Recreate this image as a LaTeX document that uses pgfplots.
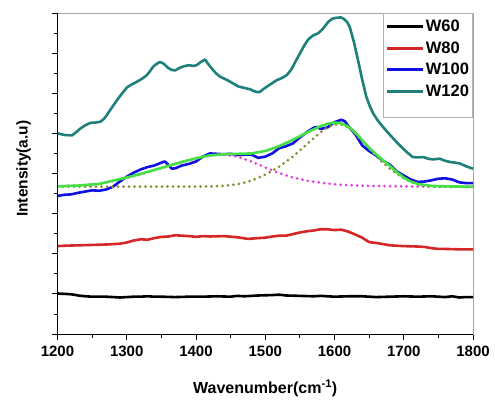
\documentclass[border=0pt]{standalone}
\usepackage{pgfplots}
\pgfplotsset{compat=1.18}
\usepackage{fontspec}
\setmainfont{Liberation Sans}
\definecolor{cW80}{HTML}{D62728}
\definecolor{cW100}{HTML}{1010E0}
\definecolor{cW120}{HTML}{1F7F7A}
\definecolor{cFit}{HTML}{44E044}
\definecolor{cD}{HTML}{E040E0}
\definecolor{cG}{HTML}{8A8A30}
\begin{document}
\begin{tikzpicture}
\begin{axis}[name=ax,
  scale only axis, width=415.5pt, height=321pt,
  xmin=1200, xmax=1800, ymin=0, ymax=8,
  xtick={1200,1300,...,1800}, minor xtick={1250,1350,...,1750},
  ytick={0,1,...,8}, minor ytick={0.5,1.5,...,7.5}, yticklabels={},
  xtick pos=bottom, ytick pos=left, tick align=outside,
  major tick length=6pt, minor tick length=3.5pt,
  tick style={black, line width=0.8pt},
  axis line style={draw=gray!70, line width=0.8pt},
  /pgf/number format/assume math mode=true,
  /pgf/number format/1000 sep={},
  xticklabel style={font=\bfseries\fontsize{15}{15}\selectfont, yshift=-2pt},
  xlabel={Wavenumber(cm\textsuperscript{-1})},
  ylabel={Intensity(a.u)},
  xlabel style={font=\bfseries\fontsize{16}{16}\selectfont, at={(axis description cs:0.5,0)}, anchor=center, yshift=-54pt},
  ylabel style={font=\bfseries\fontsize{15.5}{15.5}\selectfont, at={(axis description cs:0,0.515)}, anchor=center, yshift=34pt},
  legend style={at={(1,1)}, anchor=north east, draw=gray!60, line width=1pt, fill=white,
    font=\bfseries\fontsize{16.5}{16.5}\selectfont, legend cell align=left,
    inner xsep=2pt, inner ysep=5pt, row sep=5.5pt,
    nodes={inner sep=1.5pt}},
  legend image code/.code={\draw[#1, line width=3pt] (0pt,0pt) -- (36pt,0pt);},
  every axis plot/.append style={line width=2.6pt, line join=round},
]
% W60
\addplot[black] coordinates {
(1200,1.01)(1210,1.00)(1220,0.99)(1230,0.96)(1240,0.94)(1250,0.93)(1260,0.93)(1270,0.93)(1280,0.92)(1290,0.91)(1300,0.92)(1310,0.93)(1320,0.93)(1330,0.94)(1340,0.93)(1350,0.93)(1370,0.92)(1390,0.93)(1410,0.93)(1430,0.94)(1450,0.93)(1460,0.95)(1470,0.94)(1490,0.96)(1510,0.97)(1520,0.98)(1530,0.96)(1550,0.95)(1570,0.94)(1580,0.95)(1600,0.93)(1620,0.94)(1640,0.94)(1660,0.92)(1680,0.93)(1700,0.94)(1720,0.93)(1740,0.94)(1760,0.92)(1770,0.94)(1780,0.91)(1790,0.92)(1800,0.92)};
\addlegendentry{W60}
% W80
\addplot[cW80] coordinates {
(1200,2.19)(1210,2.20)(1230,2.21)(1250,2.22)(1270,2.23)(1290,2.25)(1300,2.28)(1310,2.33)(1320,2.36)(1330,2.35)(1340,2.39)(1350,2.42)(1360,2.43)(1370,2.46)(1380,2.45)(1390,2.44)(1400,2.42)(1410,2.44)(1420,2.43)(1440,2.44)(1460,2.41)(1475,2.37)(1490,2.39)(1500,2.40)(1510,2.43)(1520,2.45)(1530,2.45)(1540,2.49)(1550,2.53)(1560,2.56)(1570,2.58)(1580,2.61)(1590,2.61)(1600,2.59)(1610,2.60)(1620,2.55)(1630,2.48)(1640,2.40)(1650,2.29)(1660,2.27)(1670,2.24)(1680,2.21)(1690,2.20)(1700,2.19)(1720,2.18)(1730,2.17)(1740,2.14)(1750,2.12)(1760,2.12)(1780,2.11)(1800,2.11)};
\addlegendentry{W80}
% W100
\addplot[cW100] coordinates {
(1200,3.44)(1210,3.47)(1220,3.48)(1230,3.52)(1240,3.55)(1250,3.58)(1260,3.57)(1270,3.60)(1280,3.67)(1290,3.80)(1300,3.92)(1310,4.02)(1320,4.10)(1330,4.16)(1340,4.20)(1350,4.27)(1355,4.30)(1360,4.22)(1365,4.12)(1370,4.13)(1380,4.20)(1390,4.24)(1400,4.30)(1410,4.42)(1420,4.50)(1430,4.49)(1440,4.48)(1450,4.49)(1460,4.46)(1470,4.47)(1480,4.47)(1490,4.39)(1500,4.42)(1510,4.50)(1520,4.63)(1530,4.68)(1540,4.75)(1550,4.90)(1560,5.03)(1570,5.14)(1575,5.16)(1580,5.11)(1590,5.15)(1600,5.28)(1610,5.34)(1615,5.30)(1620,5.18)(1630,4.98)(1640,4.70)(1650,4.56)(1660,4.45)(1670,4.32)(1680,4.22)(1690,4.05)(1700,3.95)(1710,3.85)(1720,3.79)(1730,3.80)(1740,3.83)(1750,3.87)(1760,3.88)(1770,3.85)(1780,3.78)(1790,3.76)(1800,3.76)};
\addlegendentry{W100}
% W120
\addplot[cW120] coordinates {
(1200,5.00)(1210,4.96)(1221,4.95)(1227,5.03)(1233,5.12)(1240,5.20)(1247,5.26)(1255,5.27)(1262,5.29)(1267,5.36)(1271,5.45)(1278,5.63)(1286,5.83)(1293,5.99)(1300,6.14)(1307,6.22)(1314,6.28)(1322,6.36)(1329,6.45)(1334,6.56)(1338,6.66)(1343,6.73)(1348,6.78)(1353,6.74)(1360,6.63)(1365,6.58)(1370,6.57)(1376,6.63)(1382,6.67)(1390,6.70)(1396,6.68)(1401,6.70)(1407,6.78)(1413,6.84)(1418,6.72)(1425,6.57)(1430,6.48)(1435,6.41)(1445,6.33)(1454,6.24)(1461,6.17)(1468,6.14)(1478,6.10)(1484,6.05)(1488,6.03)(1492,6.03)(1497,6.10)(1502,6.16)(1509,6.24)(1516,6.32)(1524,6.38)(1531,6.45)(1538,6.60)(1544,6.80)(1550,6.99)(1556,7.18)(1562,7.34)(1569,7.44)(1576,7.49)(1583,7.60)(1591,7.78)(1597,7.86)(1603,7.88)(1609,7.89)(1613,7.86)(1618,7.78)(1622,7.65)(1628,7.28)(1634,6.82)(1640,6.34)(1646,5.91)(1651,5.68)(1656,5.49)(1663,5.31)(1670,5.16)(1677,5.02)(1685,4.87)(1692,4.74)(1699,4.62)(1706,4.51)(1713,4.41)(1720,4.40)(1728,4.41)(1735,4.37)(1742,4.35)(1747,4.36)(1752,4.37)(1759,4.32)(1766,4.29)(1774,4.27)(1781,4.25)(1790,4.18)(1800,4.12)};
\addlegendentry{W120}
\addlegendimage{empty legend}\addlegendentry{\rule[-9pt]{0pt}{12pt}}
% D band fit
\addplot[cD, line width=3pt, line cap=round, dash pattern=on 0pt off 5.5pt, forget plot] coordinates {
(1200,3.68)(1230,3.70)(1260,3.74)(1280,3.81)(1300,3.89)(1320,3.98)(1340,4.08)(1360,4.18)(1380,4.28)(1400,4.38)(1420,4.45)(1430,4.47)(1440,4.47)(1460,4.42)(1480,4.30)(1500,4.15)(1520,4.01)(1540,3.90)(1560,3.82)(1580,3.77)(1600,3.73)(1620,3.71)(1650,3.69)(1700,3.68)(1750,3.67)(1800,3.67)};
% G band fit
\addplot[cG, line width=3pt, line cap=round, dash pattern=on 0pt off 5.5pt, forget plot] coordinates {
(1200,3.67)(1300,3.67)(1400,3.67)(1440,3.69)(1460,3.73)(1480,3.82)(1500,3.97)(1520,4.17)(1540,4.42)(1560,4.73)(1580,5.03)(1590,5.15)(1600,5.22)(1610,5.22)(1620,5.15)(1630,5.00)(1640,4.82)(1650,4.62)(1660,4.43)(1670,4.27)(1680,4.12)(1690,3.99)(1700,3.88)(1710,3.79)(1720,3.73)(1740,3.68)(1760,3.67)(1800,3.67)};
% cumulative fit
\addplot[cFit, forget plot] coordinates {
(1200,3.68)(1230,3.70)(1260,3.74)(1280,3.82)(1300,3.90)(1320,3.99)(1340,4.09)(1360,4.19)(1380,4.29)(1400,4.38)(1420,4.45)(1440,4.48)(1460,4.49)(1480,4.50)(1500,4.56)(1520,4.68)(1540,4.84)(1560,5.02)(1580,5.18)(1590,5.24)(1600,5.27)(1610,5.25)(1620,5.17)(1630,5.02)(1640,4.83)(1650,4.64)(1660,4.48)(1670,4.33)(1680,4.19)(1690,4.03)(1700,3.90)(1710,3.80)(1720,3.74)(1740,3.69)(1760,3.68)(1800,3.67)};
\end{axis}
\draw[black, line width=1pt] (ax.north west) -- (ax.south west) -- (ax.south east);
\path (ax.south west) ++(-57.5pt,-65pt) coordinate (bl);
\path (ax.north east) ++(22pt,13pt) coordinate (tr);
\path (bl) rectangle (tr);
\end{tikzpicture}
\end{document}
